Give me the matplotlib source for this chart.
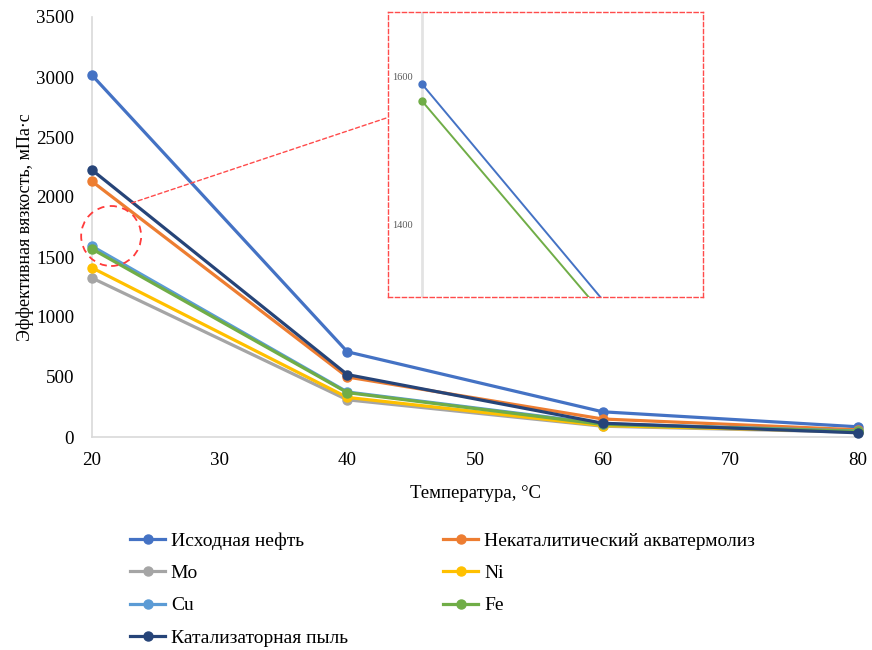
import matplotlib
matplotlib.use('Agg')
import matplotlib.pyplot as plt
from matplotlib.patches import Ellipse, ConnectionPatch

temps = [20, 40, 60, 80]
names = ['Исходная нефть', 'Некаталитический акватермолиз', 'Mo', 'Ni',
         'Cu', 'Fe', 'Катализаторная пыль']
colors = ['#4472C4', '#ED7D31', '#A5A5A5', '#FFC000', '#5B9BD5', '#70AD47', '#264478']

ish = [3015, 710, 210, 85]
nekat = [2130, 500, 150, 60]
mo = [1325, 310, 90, 40]
ni = [1410, 330, 95, 45]
cu = [1590, 375, 110, 50]
fe = [1567, 370, 105, 48]
pyl = [2225, 520, 115, 35]
series = [ish, nekat, mo, ni, cu, fe, pyl]

plt.rcParams['font.family'] = ['Liberation Serif', 'DejaVu Serif']

fig = plt.figure(figsize=(8.72, 6.5), dpi=100)
ax = fig.add_axes([92/872, 1-437/650, 766/872, 420/650])

lines = []
for name, vals, c in zip(names, series, colors):
    ln, = ax.plot(temps, vals, color=c, lw=2.3, marker='o', ms=6.5,
                  label=name, clip_on=False, zorder=3)
    lines.append(ln)

ax.set_xlim(20, 80)
ax.set_ylim(0, 3500)
ax.set_xticks(range(20, 81, 10))
ax.set_yticks(range(0, 3501, 500))
for s in ['top', 'right']:
    ax.spines[s].set_visible(False)
for s in ['left', 'bottom']:
    ax.spines[s].set_color('#D9D9D9')
    ax.spines[s].set_linewidth(1.2)
ax.tick_params(length=0, labelsize=13.7)
ax.tick_params(axis='y', pad=13)
ax.tick_params(axis='x', pad=11)
ax.set_xlabel('Температура, °С', fontsize=13.5, labelpad=11)
ax.set_ylabel('Эффективная вязкость, мПа·с', fontsize=13, labelpad=1)

# zoom circle
circ = Ellipse((21.5, 1675), width=4.7, height=500, fill=False,
               ec='#FF3B3B', ls=(0, (4, 3)), lw=1.3, zorder=5, clip_on=False)
ax.add_patch(circ)

# inset
axin = fig.add_axes([388/872, 1-297/650, 315/872, 285/650])
axin.plot(temps, cu, color='#4472C4', lw=1.4, marker='o', ms=5)
axin.plot(temps, fe, color='#70AD47', lw=1.4, marker='o', ms=5)
axin.axvline(20, color='#E3E3E3', lw=2, zorder=0)
axin.set_xlim(19.09, 27.5)
axin.set_ylim(1301, 1688)
axin.set_xticks([])
axin.set_yticks([1400, 1600])
axin.tick_params(axis='y', length=0, labelsize=7.5, labelcolor='#595959', pad=-18)
for s in axin.spines.values():
    s.set_color('#FF4B4B')
    s.set_linestyle((0, (3, 2)))
    s.set_linewidth(1.0)

con = ConnectionPatch(xyA=(23.1, 1950), coordsA=ax.transData,
                      xyB=(0, 0.63), coordsB=axin.transAxes,
                      color='#FF4B4B', ls=(0, (3, 2)), lw=1.0)
fig.add_artist(con)

order = [0, 2, 4, 6, 1, 3, 5]
fig.legend([lines[i] for i in order], [names[i] for i in order],
           ncol=2, loc='upper left', bbox_to_anchor=(130/872, 1-532/650),
           frameon=False, fontsize=14, handlelength=1.8, handletextpad=0.3,
           labelspacing=0.76, columnspacing=4.9, borderpad=0, borderaxespad=0)

fig.savefig('out.png', dpi=100)
